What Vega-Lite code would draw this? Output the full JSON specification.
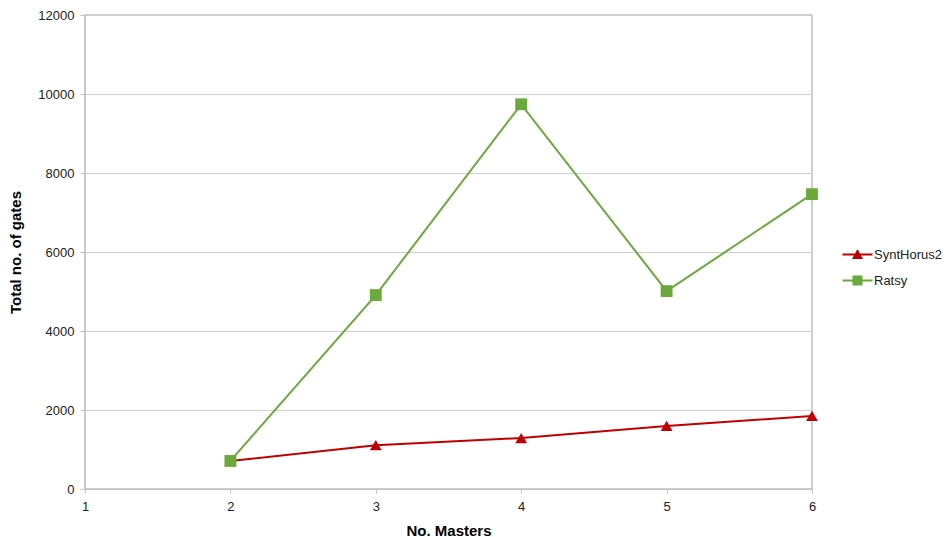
{
  "$schema": "https://vega.github.io/schema/vega-lite/v6.json",
  "width": 727,
  "height": 474,
  "autosize": "none",
  "padding": {"left": 85, "top": 15, "right": 132, "bottom": 48},
  "background": "white",
  "config": {
    "font": "Liberation Sans",
    "view": {"stroke": "#c0c0c0", "strokeWidth": 1.5},
    "axis": {"labelFont": "Liberation Sans", "titleFont": "Liberation Sans", "labelFontSize": 13, "labelColor": "#222", "titleFontSize": 15, "titleFontWeight": "bold", "titleColor": "#000", "domainColor": "#c0c0c0", "tickColor": "#c0c0c0", "gridColor": "#d0d0d0"}
  },
  "data": {"values": [
    {"masters": 2, "gates": 710, "series": "SyntHorus2"},
    {"masters": 3, "gates": 1110, "series": "SyntHorus2"},
    {"masters": 4, "gates": 1290, "series": "SyntHorus2"},
    {"masters": 5, "gates": 1595, "series": "SyntHorus2"},
    {"masters": 6, "gates": 1850, "series": "SyntHorus2"},
    {"masters": 2, "gates": 710, "series": "Ratsy"},
    {"masters": 3, "gates": 4910, "series": "Ratsy"},
    {"masters": 4, "gates": 9740, "series": "Ratsy"},
    {"masters": 5, "gates": 5010, "series": "Ratsy"},
    {"masters": 6, "gates": 7465, "series": "Ratsy"}
  ]},
  "encoding": {
    "x": {"field": "masters", "type": "quantitative", "scale": {"domain": [1, 6], "nice": false, "zero": false},
      "axis": {"title": "No. Masters", "values": [1, 2, 3, 4, 5, 6], "grid": false, "tickSize": 4, "labelPadding": 7, "titlePadding": 10, "labelFlush": false}},
    "y": {"field": "gates", "type": "quantitative", "scale": {"domain": [0, 12000], "nice": false},
      "axis": {"title": "Total no. of gates", "values": [0, 2000, 4000, 6000, 8000, 10000, 12000], "format": "d", "tickSize": 5, "labelPadding": 6, "titlePadding": 14}},
    "color": {"field": "series", "type": "nominal",
      "scale": {"domain": ["SyntHorus2", "Ratsy"], "range": ["#c00000", "#6aaa3a"]},
      "legend": {"title": null, "orient": "none", "legendX": 766, "legendY": 233, "labelFontSize": 13, "labelFont": "Liberation Sans", "labelColor": "#222", "rowPadding": 12, "symbolSize": 100, "symbolStrokeWidth": 0, "labelOffset": 10,
        "encode": {"symbols": {"update": {"shape": {"signal": "datum.value === 'Ratsy' ? 'M-3,-0.2H3V0.2H-3Z M-1,-1H1V1H-1Z' : 'M-3,-0.2H3V0.2H-3Z M0,-1.1L1.1,0.9H-1.1Z'"}, "fillOpacity": {"value": 1}, "opacity": {"value": 1}}}}}}
  },
  "layer": [
    {"mark": {"type": "line", "strokeWidth": 2}, "encoding": {"detail": {"field": "series"}}},
    {"transform": [{"filter": "datum.series === 'SyntHorus2'"}],
     "mark": {"type": "point", "filled": true, "opacity": 1, "size": 140, "shape": "triangle-up"}},
    {"transform": [{"filter": "datum.series === 'Ratsy'"}],
     "mark": {"type": "point", "filled": true, "opacity": 1, "size": 140, "shape": "square"}}
  ]
}
